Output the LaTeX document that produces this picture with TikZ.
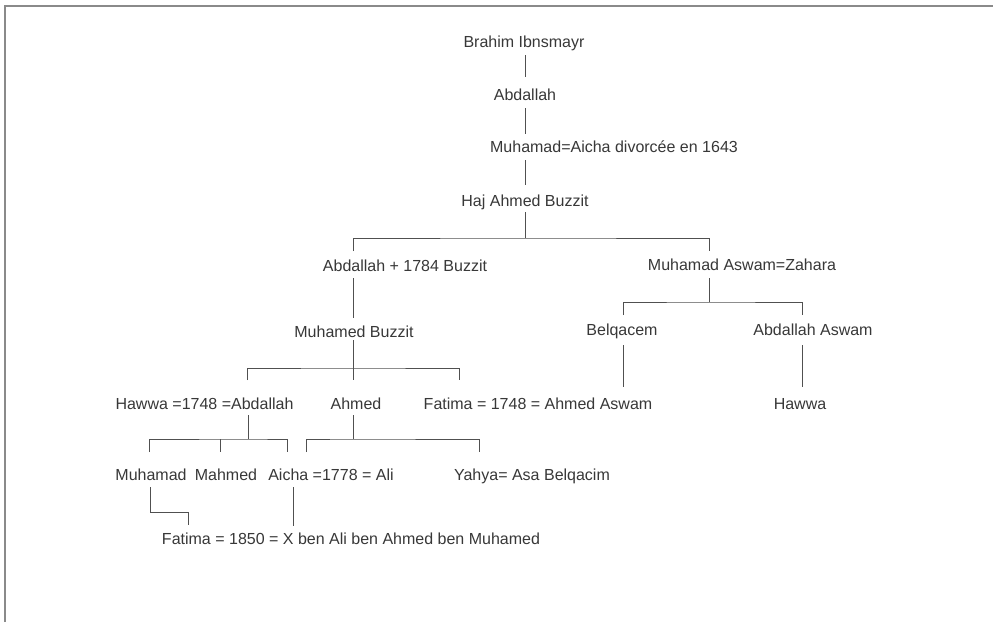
\documentclass[tikz,border=0pt]{standalone}
\usepackage{fontspec}
\setmainfont{Liberation Sans}
\usetikzlibrary{calc}
\definecolor{txt}{HTML}{383838}
\definecolor{ln}{HTML}{505050}
\definecolor{frm}{HTML}{8A8A8A}
\begin{document}
\begin{tikzpicture}[x=1pt,y=-1pt,
  person/.style={anchor=base,inner sep=0pt,font=\fontsize{16}{19}\selectfont,text=txt},
  link/.style={draw=ln,line width=0.7pt},
  frame/.style={draw=frm,line width=1.4pt}]
\useasboundingbox (0,0) rectangle (993,622);
\fill[white] (0,0) rectangle (993,622);
\draw[frame] (5,622) -- (5,6) -- (993,6);

% people
\node[person] (brahim)   at (524,47.5)  {Brahim Ibnsmayr};
\node[person] (abdA)     at (525,100.5) {Abdallah};
\node[person] (muhaicha) at (614,152.5) {Muhamad=Aicha divorcée en 1643};
\node[person] (haj)      at (525,206.5) {Haj Ahmed Buzzit};
\node[person] (abdB)     at (405,271.5) {Abdallah + 1784 Buzzit};
\node[person] (aswam)    at (742,270.5) {Muhamad Aswam=Zahara};
\node[person] (buzzit)   at (354,337.5) {Muhamed Buzzit};
\node[person] (belq)     at (622,335.5) {Belqacem};
\node[person] (abdasw)   at (813,335.5) {Abdallah Aswam};
\node[person] (hawwa)    at (204.5,409.5) {Hawwa =1748 =Abdallah};
\node[person] (ahmed)    at (356,409.5) {Ahmed};
\node[person] (fatimaA)  at (538,409.5) {Fatima = 1748 = Ahmed Aswam};
\node[person] (hawwaB)   at (800,409.5) {Hawwa};
\node[person] (muhamad)  at (151,480.5) {Muhamad};
\node[person] (mahmed)   at (226,480.5) {Mahmed};
\node[person] (aicha)    at (331,480.5) {Aicha =1778 = Ali};
\node[person] (yahya)    at (532,480.5) {Yahya= Asa Belqacim};
\node[person] (fatimaB)  at (351,544.5) {Fatima = 1850 = X ben Ali ben Ahmed ben Muhamed};

% junctions
\coordinate (j1) at (525,238);
\coordinate (j2) at (709,302);
\coordinate (j3) at (353,368);
\coordinate (j4) at (248,439);
\coordinate (j5) at (353,439);

% top chain
\draw[link] ($(brahim.base)+(1,7.5)$) -- ($(abdA.base)+(0,-23.5)$);
\draw[link] ($(abdA.base)+(0,7.5)$) -- ($(muhaicha.base)+(-89,-18.5)$);
\draw[link] ($(muhaicha.base)+(-89,7.5)$) -- ($(haj.base)+(0,-21.5)$);
\draw[link] ($(haj.base)+(0,5.5)$) -- (j1);
\draw[link] ($(abdB.base)+(-52,-20.5)$) |- (j1) -| ($(aswam.base)+(-33,-19.5)$);

% Abdallah + 1784 Buzzit branch
\draw[link] ($(abdB.base)+(-52,6.5)$) -- ($(buzzit.base)+(-1,-19.5)$);
\draw[link] ($(buzzit.base)+(-1,2.5)$) -- ($(ahmed.base)+(-3,-29.5)$);
\draw[link] ($(hawwa.base)+(42.5,-29.5)$) |- (j3) -| ($(fatimaA.base)+(-79,-29.5)$);

% Hawwa =1748 =Abdallah children
\draw[link] ($(hawwa.base)+(43.5,5.5)$) -- (j4);
\draw[link] ($(muhamad.base)+(-2,-28.5)$) |- (j4) -| ($(aicha.base)+(-44,-28.5)$);
\draw[link] ($(mahmed.base)+(-6,-41.5)$) -- ($(mahmed.base)+(-6,-28.5)$);

% Ahmed children
\draw[link] ($(ahmed.base)+(-3,5.5)$) -- (j5);
\draw[link] ($(aicha.base)+(-25,-28.5)$) |- (j5) -| ($(yahya.base)+(-53,-28.5)$);

% Muhamad Aswam=Zahara branch
\draw[link] ($(aswam.base)+(-33,7.5)$) -- (j2);
\draw[link] ($(belq.base)+(1,-20.5)$) |- (j2) -| ($(abdasw.base)+(-11,-20.5)$);
\draw[link] ($(belq.base)+(1,9.5)$) -- ($(fatimaA.base)+(85,-22.5)$);
\draw[link] ($(abdasw.base)+(-11,9.5)$) -- ($(hawwaB.base)+(2,-22.5)$);

% last generation
\draw[link] ($(muhamad.base)+(-1,6.5)$) |- ($(fatimaB.base)+(-163,-32.5)$) -- ($(fatimaB.base)+(-163,-19.5)$);
\draw[link] ($(aicha.base)+(-38,6.5)$) -- ($(fatimaB.base)+(-58,-18.5)$);
\end{tikzpicture}
\end{document}
